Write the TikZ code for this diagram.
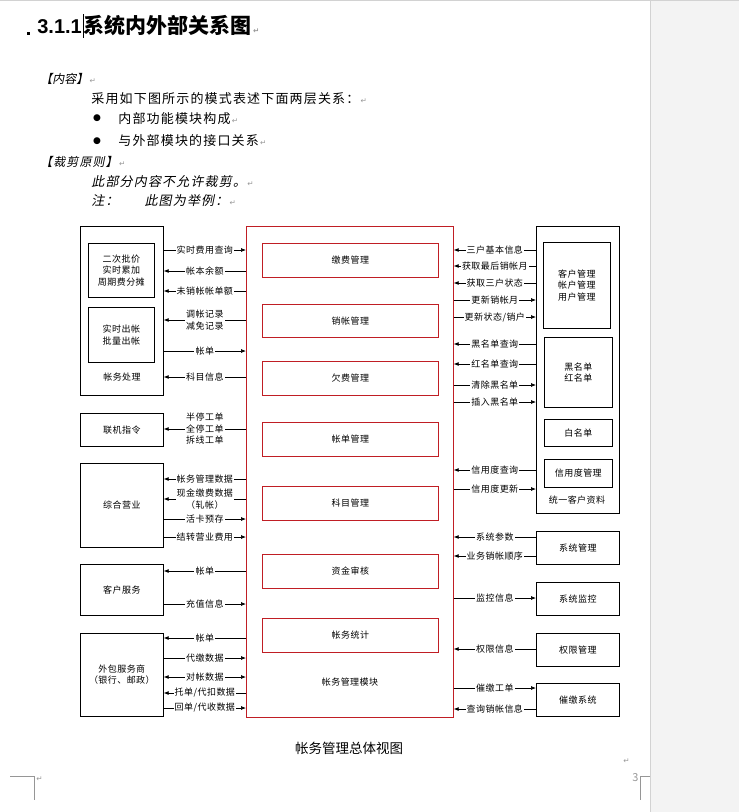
\documentclass[tikz,border=0pt]{standalone}
\usepackage{fontspec}
\setmainfont{Noto Sans CJK SC}[AutoFakeSlant=0.2]
\newfontfamily\dvfont{DejaVu Sans}
\newfontfamily\lsfont{Liberation Sans}
\usetikzlibrary{arrows.meta}

\definecolor{boxred}{RGB}{192,30,36}
\definecolor{pagegray}{RGB}{243,243,243}
\definecolor{markgray}{RGB}{150,150,150}
\newcommand{\diag}{\fontsize{9}{11.5}\selectfont\addfontfeature{LetterSpace=5}}
\newcommand{\retmark}{{\dvfont\color{markgray}\fontsize{7.5}{7.5}\selectfont\,↵}}

\begin{document}
\begin{tikzpicture}[x=1pt, y=-1pt, line width=0.7pt,
    box/.style={draw, inner sep=0pt, anchor=north west, align=center, font=\diag},
    red box/.style={box, draw=boxred},
    fwd/.style={-{Latex[length=5pt,width=4pt]}},
    bwd/.style={{Latex[length=5pt,width=4pt]}-},
    dbl/.style={{Latex[length=5pt,width=4pt]}-{Latex[length=5pt,width=4pt]}},
    body/.style={anchor=west, inner sep=0pt, font=\fontsize{13}{13}\selectfont\addfontfeature{LetterSpace=9}}]
    \useasboundingbox (0,0) rectangle (739,812);
    \fill[pagegray] (650,0) rectangle (739,812);
    \draw[gray!35] (650,0) -- (650,812);
    \draw[gray!35] (0,0.5) -- (739,0.5);

    % heading and text
    \fill (27,32) rectangle (30,35);
    \node[anchor=base west, inner sep=0pt, font=\bfseries\fontsize{21}{21}\selectfont] (title) at (37,33) {{\lsfont\fontsize{20}{20}\selectfont 3.1.1}\hspace{2pt}系统内外部关系图\retmark};
    \draw[line width=0.8pt] (83.5,14) -- (83.5,38);
    \node[body, font=\itshape\fontsize{12}{12}\selectfont] (nr) at (40,78.5) {【内容】\retmark};
    \node[body] (cy) at (91,98.5) {采用如下图所示的模式表述下面两层关系：\retmark};
    \node[font=\dvfont\fontsize{9}{9}\selectfont, inner sep=0pt] (b1) at (97,118.5) {●};
    \node[body] (nb) at (118,118.5) {内部功能模块构成\retmark};
    \node[font=\dvfont\fontsize{9}{9}\selectfont, inner sep=0pt] (b2) at (97,141) {●};
    \node[body] (wb) at (118,141) {与外部模块的接口关系\retmark};
    \node[body, font=\itshape\fontsize{12}{12}\selectfont\addfontfeature{LetterSpace=9}] (cjyz) at (40,162) {【裁剪原则】\retmark};
    \node[body, font=\itshape\fontsize{13}{13}\selectfont\addfontfeature{LetterSpace=9}] (bycj) at (91,182) {此部分内容不允许裁剪。\retmark};
    \node[body, font=\itshape\fontsize{13}{13}\selectfont\addfontfeature{LetterSpace=9}] (zhu) at (91,201) {注：\hspace{26pt}此图为举例：\retmark};

    % left modules
    \node[box, minimum width=83pt, minimum height=169pt] (zwcl) at (80,226) {};
    \node[box, minimum width=66pt, minimum height=54pt] (ecpj) at (88,243) {二次批价\\实时累加\\周期费分摊};
    \node[box, minimum width=66pt, minimum height=55pt] (sscz) at (88,307) {实时出帐\\批量出帐};
    \node[font=\diag] (zwcl label) at (122,377) {帐务处理};
    \node[box, minimum width=83pt, minimum height=33pt] (ljzl) at (80,413) {联机指令};
    \node[box, minimum width=83pt, minimum height=84pt] (zhyy) at (80,463) {综合营业};
    \node[box, minimum width=83pt, minimum height=51pt] (khfw) at (80,564) {客户服务};
    \node[box, minimum width=83pt, minimum height=83pt] (wbfw) at (80,633) {外包服务商\\（银行、邮政）};

    % central module
    \node[red box, minimum width=207pt, minimum height=491pt] (zwgl) at (246,226) {};
    \node[red box, minimum width=176pt, minimum height=34pt] (jfgl) at (262,243) {缴费管理};
    \node[red box, minimum width=176pt, minimum height=33pt] (xzgl) at (262,304) {销帐管理};
    \node[red box, minimum width=176pt, minimum height=34pt] (qfgl) at (262,361) {欠费管理};
    \node[red box, minimum width=176pt, minimum height=34pt] (zdgl) at (262,422) {帐单管理};
    \node[red box, minimum width=176pt, minimum height=34pt] (kmgl) at (262,486) {科目管理};
    \node[red box, minimum width=176pt, minimum height=34pt] (zjsh) at (262,554) {资金审核};
    \node[red box, minimum width=176pt, minimum height=34pt] (zwtj) at (262,618) {帐务统计};
    \node[font=\diag] (zwgl label) at (350,682) {帐务管理模块};

    % right modules
    \node[box, minimum width=83pt, minimum height=287pt] (tykh) at (536,226) {};
    \node[box, minimum width=67pt, minimum height=86pt] (khgl) at (543,242) {客户管理\\帐户管理\\用户管理};
    \node[box, minimum width=68pt, minimum height=70pt] (hmd) at (544,337) {黑名单\\红名单};
    \node[box, minimum width=68pt, minimum height=27pt] (bmd) at (544,419) {白名单};
    \node[box, minimum width=68pt, minimum height=28pt] (xydgl) at (544,459) {信用度管理};
    \node[font=\diag] (tykh label) at (577,500) {统一客户资料};
    \node[box, minimum width=83pt, minimum height=33pt] (xtgl) at (536,531) {系统管理};
    \node[box, minimum width=83pt, minimum height=33pt] (xtjk) at (536,582) {系统监控};
    \node[box, minimum width=83pt, minimum height=33pt] (qxgl) at (536,633) {权限管理};
    \node[box, minimum width=83pt, minimum height=33pt] (cjxt) at (536,683) {催缴系统};

    % interfaces, left side
    \path[every node/.style={fill=white, inner sep=1.2pt, align=center, font=\diag}]
    (zwcl.east |- 0,250) edge[fwd] node {实时费用查询} (zwgl.west |- 0,250)
    (zwcl.east |- 0,271) edge[bwd] node {帐本余额} (zwgl.west |- 0,271)
    (zwcl.east |- 0,291) edge[bwd] node {未销帐帐单额} (zwgl.west |- 0,291)
    (zwcl.east |- 0,320) edge[bwd] node {调帐记录\\减免记录} (zwgl.west |- 0,320)
    (zwcl.east |- 0,351) edge[fwd] node {帐单} (zwgl.west |- 0,351)
    (zwcl.east |- 0,377) edge[bwd] node {科目信息} (zwgl.west |- 0,377)
    (ljzl.east |- 0,429) edge[bwd] node {半停工单\\全停工单\\拆线工单} (zwgl.west |- 0,429)
    (zhyy.east |- 0,479) edge[bwd] node {帐务管理数据} (zwgl.west |- 0,479)
    (zhyy.east |- 0,499) edge[bwd] node {现金缴费数据\\（轧帐）} (zwgl.west |- 0,499)
    (zhyy.east |- 0,519) edge[fwd] node {活卡预存} (zwgl.west |- 0,519)
    (zhyy.east |- 0,537) edge[fwd] node {结转营业费用} (zwgl.west |- 0,537)
    (khfw.east |- 0,571) edge[bwd] node {帐单} (zwgl.west |- 0,571)
    (khfw.east |- 0,604) edge[fwd] node {充值信息} (zwgl.west |- 0,604)
    (wbfw.east |- 0,638) edge[bwd] node {帐单} (zwgl.west |- 0,638)
    (wbfw.east |- 0,658) edge[fwd] node {代缴数据} (zwgl.west |- 0,658)
    (wbfw.east |- 0,677) edge[dbl] node {对帐数据} (zwgl.west |- 0,677)
    (wbfw.east |- 0,693) edge[bwd] node {托单/代扣数据} (zwgl.west |- 0,693)
    (wbfw.east |- 0,708) edge[fwd] node {回单/代收数据} (zwgl.west |- 0,708);

    % interfaces, right side
    \path[every node/.style={fill=white, inner sep=1.2pt, align=center, font=\diag}]
    (zwgl.east |- 0,250) edge[bwd] node {三户基本信息} (tykh.west |- 0,250)
    (zwgl.east |- 0,266) edge[bwd] node {获取最后销帐月} (tykh.west |- 0,266)
    (zwgl.east |- 0,283) edge[bwd] node {获取三户状态} (tykh.west |- 0,283)
    (zwgl.east |- 0,300) edge[fwd] node {更新销帐月} (tykh.west |- 0,300)
    (zwgl.east |- 0,317) edge[fwd] node {更新状态/销户} (tykh.west |- 0,317)
    (zwgl.east |- 0,344) edge[bwd] node {黑名单查询} (tykh.west |- 0,344)
    (zwgl.east |- 0,364) edge[bwd] node {红名单查询} (tykh.west |- 0,364)
    (zwgl.east |- 0,385) edge[fwd] node {清除黑名单} (tykh.west |- 0,385)
    (zwgl.east |- 0,402) edge[fwd] node {插入黑名单} (tykh.west |- 0,402)
    (zwgl.east |- 0,470) edge[bwd] node {信用度查询} (tykh.west |- 0,470)
    (zwgl.east |- 0,489) edge[fwd] node {信用度更新} (tykh.west |- 0,489)
    (zwgl.east |- 0,537) edge[bwd] node {系统参数} (xtgl.west |- 0,537)
    (zwgl.east |- 0,556) edge[bwd] node {业务销帐顺序} (xtgl.west |- 0,556)
    (zwgl.east |- 0,598) edge[fwd] node {监控信息} (xtjk.west |- 0,598)
    (zwgl.east |- 0,649) edge[bwd] node {权限信息} (qxgl.west |- 0,649)
    (zwgl.east |- 0,688) edge[fwd] node {催缴工单} (cjxt.west |- 0,688)
    (zwgl.east |- 0,709) edge[bwd] node {查询销帐信息} (cjxt.west |- 0,709);

    % caption and page marks
    \node[font=\fontsize{13.5}{13.5}\selectfont] (caption) at (349,748) {帐务管理总体视图};
    \node[inner sep=0pt] (ret) at (626,761) {\retmark};
    \draw[markgray, line width=0.6pt] (10,776) -- (34,776) -- (34,800);
    \node[inner sep=0pt] (retl) at (39,779) {\retmark};
    \draw[markgray, line width=0.6pt] (650,776) -- (640,776) -- (640,800);
    \node[font=\fontsize{11}{11}\selectfont, text=markgray, inner sep=0pt] (page) at (635.5,778) {3};
\end{tikzpicture}
\end{document}
